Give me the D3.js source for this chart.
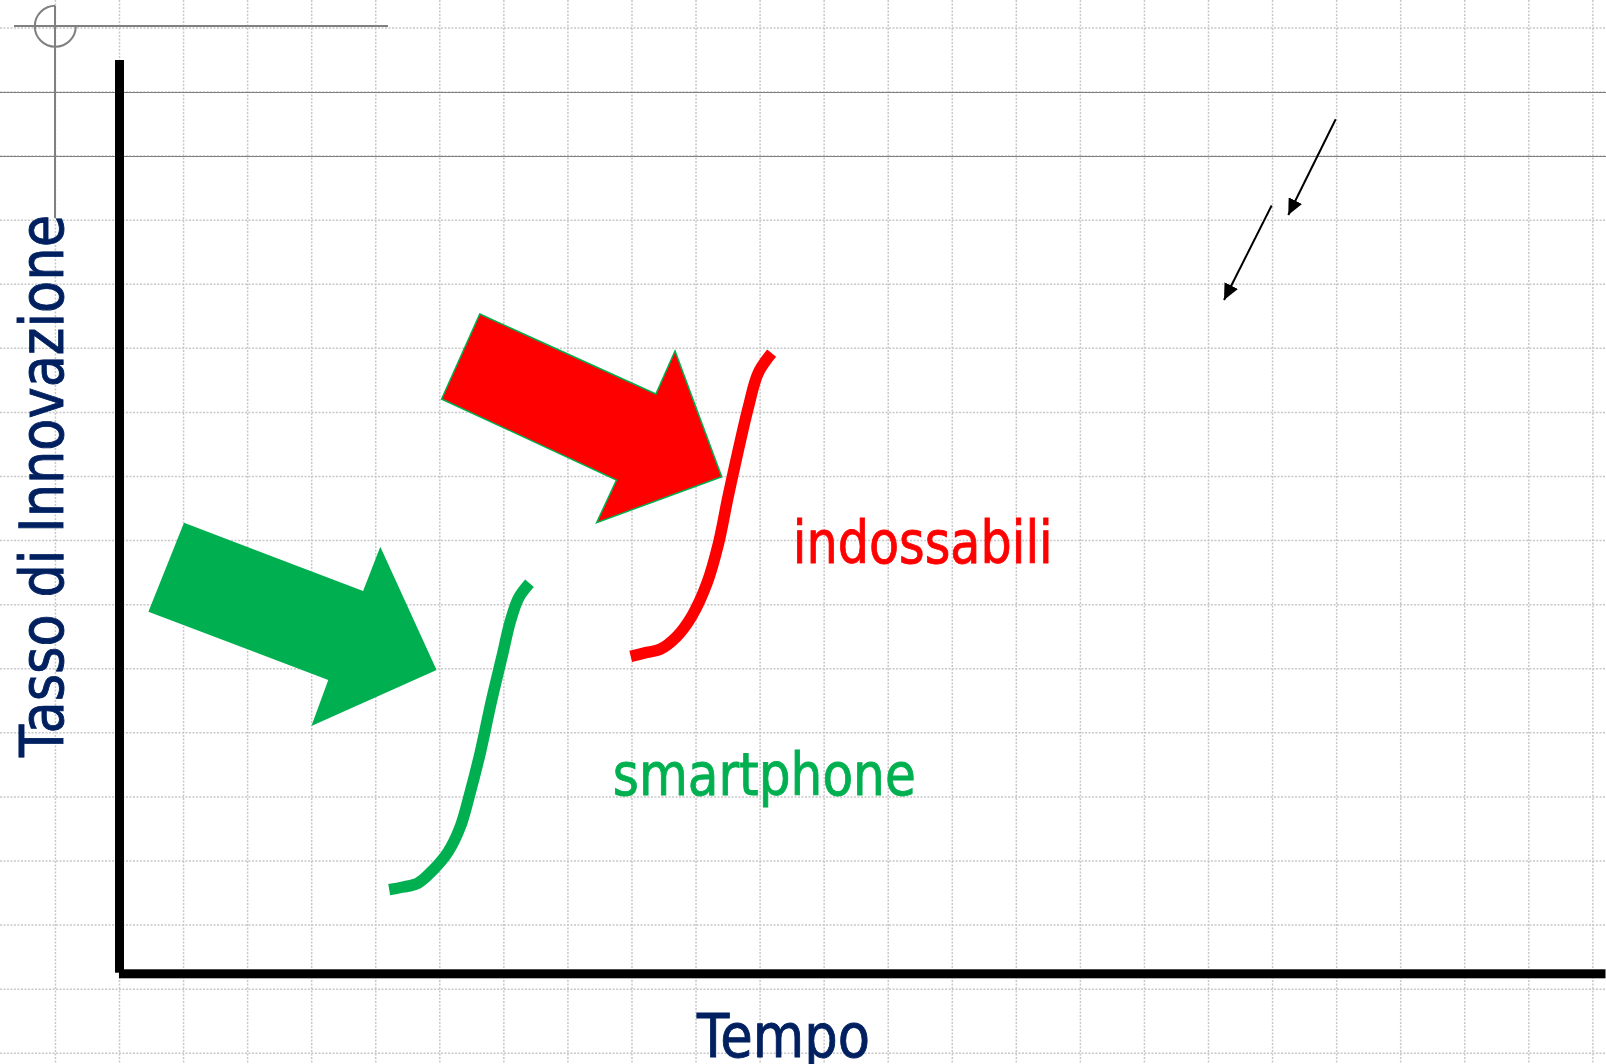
<!DOCTYPE html>
<html>
<head>
<meta charset="utf-8">
<script src="https://cdn.jsdelivr.net/npm/d3@7"></script>
<style>
  html, body { margin: 0; padding: 0; background: #fff; overflow: hidden; }
  svg { display: block; }
  text { font-family: "DejaVu Sans", Verdana, sans-serif; }
</style>
</head>
<body>
<script>
const width = 1606, height = 1064;

// all values in grid cells, origin at the corner of the axes
const smartphoneCurve = [
  [4.21, 1.31], [4.43, 1.35], [4.66, 1.41], [4.90, 1.62], [5.13, 1.90],
  [5.32, 2.29], [5.47, 2.81], [5.63, 3.44], [5.81, 4.27], [5.97, 4.94],
  [6.10, 5.49], [6.23, 5.86], [6.40, 6.09]
];
const wearablesCurve = [
  [7.98, 4.95], [8.23, 5.01], [8.44, 5.06], [8.70, 5.26], [8.93, 5.57],
  [9.17, 6.09], [9.35, 6.71], [9.50, 7.44], [9.66, 8.17], [9.82, 8.85],
  [9.97, 9.37], [10.18, 9.68]
];

// big block arrows pointing at the curves
const smartphoneArrow = [
  [1.007, 7.035], [3.803, 5.969], [4.071, 6.660], [4.950, 4.736],
  [2.996, 3.862], [3.259, 4.580], [0.451, 5.646]
];
const wearablesArrow = [
  [5.624, 10.292], [8.373, 9.043], [8.672, 9.714], [9.401, 7.753],
  [7.448, 7.035], [7.758, 7.701], [5.028, 8.965]
];

// the two little black arrows, top right
const smallArrows = [
  { from: [18.985, 13.33], to: [18.245, 11.837] },
  { from: [17.986, 11.985], to: [17.242, 10.51] }
];

const curveLabels = [
  { text: 'indossabili', at: [10.51, 6.41], len: 260, color: '#ff0000' },
  { text: 'smartphone', at: [7.70, 2.786], len: 303, color: '#00b050' }
];
const xTitle = 'Tempo', yTitle = 'Tasso di Innovazione';

// pixel mapping: one grid cell is ~64px
const x = d3.scaleLinear().domain([0, 23]).range([119.5, 119.5 + 23 * 64.06]);
const y = d3.scaleLinear().domain([0, 15]).range([973.5, 973.5 - 15 * 64.08]);

const svg = d3.select('body').append('svg')
  .attr('width', width)
  .attr('height', height);

svg.append('rect').attr('width', width).attr('height', height).attr('fill', '#fff');

// dotted background grid
const grid = svg.append('g').attr('class', 'grid')
  .attr('stroke', '#c8c8c8')
  .attr('stroke-width', 1.5)
  .attr('stroke-dasharray', '2,1.5');

grid.selectAll('line.v')
  .data(d3.range(-1, 25))
  .join('line')
  .attr('class', 'v')
  .attr('x1', d => x(d)).attr('x2', d => x(d))
  .attr('y1', 0).attr('y2', height);

grid.selectAll('line.h')
  .data(d3.range(-2, 16).map(k => k + 0.756))
  .join('line')
  .attr('class', 'h')
  .attr('y1', d => y(d)).attr('y2', d => y(d))
  .attr('x1', 0).attr('x2', width);

// two darker guide lines across the top
svg.append('g')
  .selectAll('line')
  .data([13.756, 12.756])
  .join('line')
  .attr('x1', 0).attr('x2', width)
  .attr('y1', d => Math.round(y(d)) + 0.5).attr('y2', d => Math.round(y(d)) + 0.5)
  .attr('stroke', '#808080')
  .attr('stroke-width', 1.2);

// gray crosshair in the corner
const cross = svg.append('g')
  .attr('stroke', '#808080')
  .attr('stroke-width', 2)
  .attr('fill', 'none');
cross.append('line').attr('x1', 14).attr('x2', 388).attr('y1', 26).attr('y2', 26);
cross.append('line').attr('x1', 55).attr('x2', 55).attr('y1', 6).attr('y2', 218);
const arcPath = d3.path();
arcPath.arc(55.3, 26.3, 20.5, -Math.PI / 2, 0, true);
cross.append('path').attr('d', arcPath.toString());

// axes
svg.append('rect')
  .attr('x', x(0) - 4.5).attr('y', 60)
  .attr('width', 9).attr('height', 972.7 - 60)
  .attr('fill', '#000');
svg.append('rect')
  .attr('x', x(0) - 0.5).attr('y', y(0) - 4.2)
  .attr('width', width - x(0)).attr('height', 9)
  .attr('fill', '#000');

// block arrows
const poly = pts => 'M' + pts.map(p => `${x(p[0])},${y(p[1])}`).join('L') + 'Z';

svg.append('path')
  .attr('d', poly(smartphoneArrow))
  .attr('fill', '#00b050');

svg.append('path')
  .attr('d', poly(wearablesArrow))
  .attr('fill', '#ff0000')
  .attr('stroke', '#00b050')
  .attr('stroke-width', 1.5)
  .attr('stroke-linejoin', 'miter');

// s-curves
const line = d3.line()
  .x(d => x(d[0]))
  .y(d => y(d[1]))
  .curve(d3.curveCatmullRom.alpha(0.5));

svg.append('path')
  .attr('d', line(smartphoneCurve))
  .attr('fill', 'none')
  .attr('stroke', '#00b050')
  .attr('stroke-width', 11.5);

svg.append('path')
  .attr('d', line(wearablesCurve))
  .attr('fill', 'none')
  .attr('stroke', '#ff0000')
  .attr('stroke-width', 11.5);

// small black arrows
svg.append('defs').append('marker')
  .attr('id', 'head')
  .attr('markerUnits', 'userSpaceOnUse')
  .attr('viewBox', '0 0 16 15')
  .attr('refX', 16).attr('refY', 7.5)
  .attr('markerWidth', 16).attr('markerHeight', 15)
  .attr('orient', 'auto')
  .append('path')
  .attr('d', 'M0,0L16,7.5L0,15Z')
  .attr('fill', '#000');

svg.append('g')
  .selectAll('line')
  .data(smallArrows)
  .join('line')
  .attr('x1', d => x(d.from[0])).attr('y1', d => y(d.from[1]))
  .attr('x2', d => x(d.to[0])).attr('y2', d => y(d.to[1]))
  .attr('stroke', '#000')
  .attr('stroke-width', 2)
  .attr('marker-end', 'url(#head)');

// labels
svg.append('g')
  .selectAll('text')
  .data(curveLabels)
  .join('text')
  .attr('x', d => x(d.at[0]))
  .attr('y', d => y(d.at[1]))
  .attr('fill', d => d.color)
  .attr('stroke', d => d.color)
  .attr('stroke-width', 0.9)
  .attr('font-size', 58)
  .attr('textLength', d => d.len)
  .attr('lengthAdjust', 'spacingAndGlyphs')
  .text(d => d.text);

svg.append('text')
  .attr('x', 697)
  .attr('y', 1056.7)
  .attr('fill', '#002060')
  .attr('stroke', '#002060')
  .attr('stroke-width', 0.9)
  .attr('font-size', 60)
  .attr('textLength', 173)
  .attr('lengthAdjust', 'spacingAndGlyphs')
  .text(xTitle);

svg.append('text')
  .attr('transform', 'translate(63,757) rotate(-90)')
  .attr('fill', '#002060')
  .attr('stroke', '#002060')
  .attr('stroke-width', 0.9)
  .attr('font-size', 60)
  .attr('textLength', 542)
  .attr('lengthAdjust', 'spacingAndGlyphs')
  .text(yTitle);
</script>
</body>
</html>
